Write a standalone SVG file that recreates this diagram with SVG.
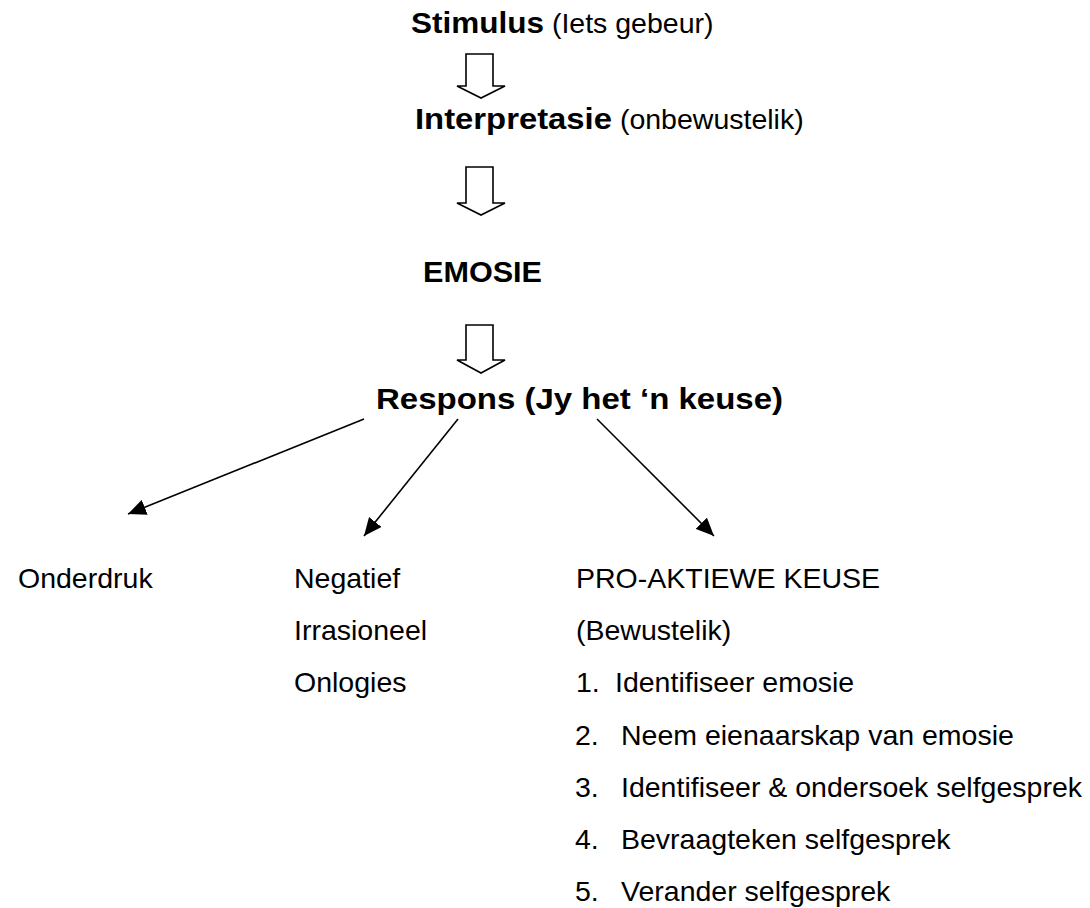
<svg xmlns="http://www.w3.org/2000/svg" width="1090" height="908" viewBox="0 0 1090 908">
<defs>
<style>
text{font-family:"Liberation Sans",Arial,sans-serif;fill:#000;}
.t{font-size:28.5px;}
.b{font-size:29px;font-weight:bold;}
.blk{fill:#fff;stroke:#000;stroke-width:1.6;stroke-linejoin:miter;}
.ln{stroke:#000;stroke-width:1.6;fill:none;}
</style>
<marker id="ah" markerUnits="userSpaceOnUse" markerWidth="20" markerHeight="16" refX="18" refY="8" orient="auto" viewBox="0 0 20 16">
<path d="M0,0 L18,8 L0,16 Z" fill="#000"/>
</marker>
</defs>
<rect width="1090" height="908" fill="#fff"/>
<g id="stimulus"><text x="411" y="33" class="t"><tspan class="b" textLength="133" lengthAdjust="spacingAndGlyphs">Stimulus</tspan> (Iets gebeur)</text></g>
<g id="interpretasie"><text x="415" y="129" class="t"><tspan class="b" textLength="197" lengthAdjust="spacingAndGlyphs">Interpretasie</tspan> (onbewustelik)</text></g>
<g id="emosie"><text x="423" y="282" class="b" textLength="119" lengthAdjust="spacingAndGlyphs">EMOSIE</text></g>
<g id="respons"><text x="376" y="409" class="b" textLength="407" lengthAdjust="spacingAndGlyphs">Respons (Jy het ‘n keuse)</text></g>
<g id="onderdruk"><text x="18" y="588" class="t">Onderdruk</text></g>
<g id="negatief">
<text x="294" y="588" class="t">Negatief</text>
<text x="294" y="640" class="t">Irrasioneel</text>
<text x="294" y="692" class="t">Onlogies</text>
</g>
<g id="proaktief">
<text x="576" y="588" class="t">PRO-AKTIEWE KEUSE</text>
<text x="576" y="640" class="t">(Bewustelik)</text>
<text x="576" y="692" class="t">1.</text><text x="615" y="692" class="t">Identifiseer emosie</text>
<text x="575" y="745" class="t">2.</text><text x="621" y="745" class="t">Neem eienaarskap van emosie</text>
<text x="575" y="797" class="t">3.</text><text x="621" y="797" class="t">Identifiseer &amp; ondersoek selfgesprek</text>
<text x="575" y="849" class="t">4.</text><text x="621" y="849" class="t">Bevraagteken selfgesprek</text>
<text x="575" y="901" class="t">5.</text><text x="621" y="901" class="t">Verander selfgesprek</text>
</g>
<g id="connectors">
<path class="blk" d="M466,54 H493 V86 H505 L481,98 L457,86 H466 Z"/>
<path class="blk" d="M466,167 H493 V203 H505 L481,215 L457,203 H466 Z"/>
<path class="blk" d="M466,325 H493 V360 H505 L481,373 L457,360 H466 Z"/>
<line class="ln" x1="364" y1="419" x2="128" y2="514" marker-end="url(#ah)"/>
<line class="ln" x1="458" y1="419" x2="364" y2="536" marker-end="url(#ah)"/>
<line class="ln" x1="597" y1="419" x2="714" y2="536" marker-end="url(#ah)"/>
</g>
</svg>
